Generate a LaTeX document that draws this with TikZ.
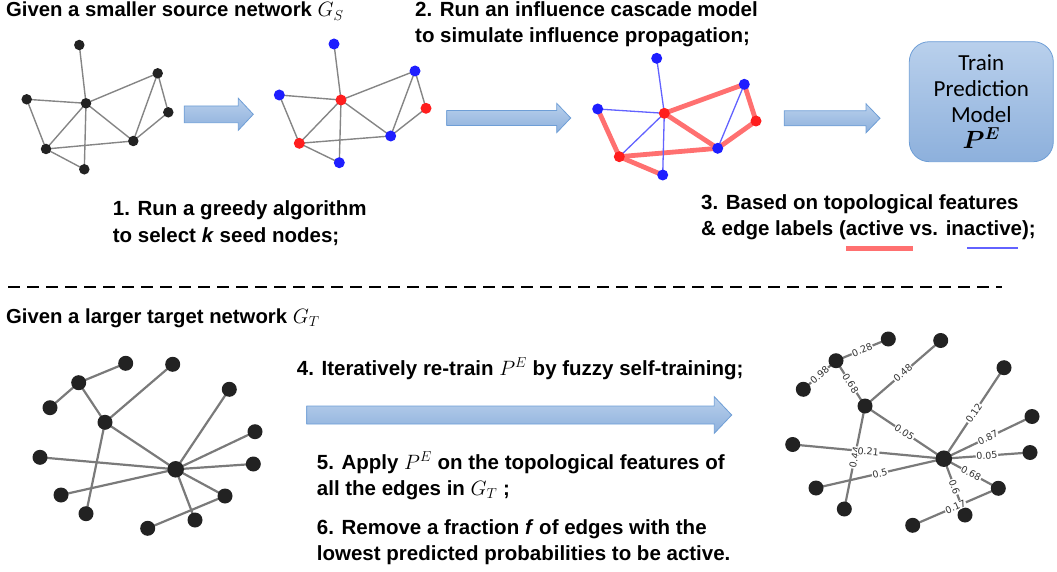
\documentclass[tikz,border=0pt]{standalone}
\usepackage{fontspec}
\setmainfont{Liberation Sans}
\newfontfamily\carlfont{Carlito}
\newfontfamily\djvfont{DejaVu Sans}
\usepackage{bm}
\pgfdeclarelayer{bg}
\pgfsetlayers{bg,main}
\definecolor{arrtop}{HTML}{B9D0EC}
\definecolor{arrbot}{HTML}{8DB0DC}
\definecolor{arredge}{HTML}{6E9ED6}
\definecolor{edgegray}{HTML}{858585}
\definecolor{nodeblack}{HTML}{222222}
\definecolor{nblue}{HTML}{1E1EFF}
\definecolor{nred}{HTML}{FF1E1E}
\definecolor{actred}{HTML}{FF7070}
\definecolor{inblue}{HTML}{6262FF}
\definecolor{bedgegray}{HTML}{7A7A7A}
\begin{document}
\begin{tikzpicture}[x=1pt,y=-1pt,
  blk/.style={circle,fill=nodeblack,inner sep=0pt,minimum size=10.5pt},
  bnd/.style={circle,fill=nblue,inner sep=0pt,minimum size=11pt},
  rnd/.style={circle,fill=nred,inner sep=0pt,minimum size=11pt},
  gedge/.style={draw=edgegray,line width=1.4pt},
  actedge/.style={draw=actred,line width=4.8pt},
  inedge/.style={draw=inblue,line width=1.3pt},
  bign/.style={circle,fill=nodeblack,inner sep=0pt,minimum size=15pt},
  hubn/.style={circle,fill=nodeblack,inner sep=0pt,minimum size=16.5pt},
  bedge/.style={draw=bedgegray,line width=2.2pt},
  lbl/.style={midway,sloped,fill=white,inner sep=0.6pt,text=black!80,font=\djvfont\fontsize{9.5}{10}\selectfont},
  txt/.style={anchor=base west,inner sep=0pt,font=\bfseries\fontsize{20.5}{26}\selectfont},
  ttl/.style={anchor=base west,inner sep=0pt,font=\bfseries\fontsize{20.3}{26}\selectfont},
  blockarrow/.style={draw=arredge,line width=0.8pt,top color=arrtop,bottom color=arrbot}
]
\useasboundingbox (0,0) rectangle (1057,572);

% ---------- texts ----------
\node[ttl] (title1) at (6,17) {Given a smaller source network $G_S$};
\node[txt] (t2a) at (415,16.7) {2. Run an influence cascade model};
\node[txt] (t2b) at (415,42.7) {to simulate influence propagation;};
\node[txt] (t1a) at (112.7,215.7) {1. Run a greedy algorithm};
\node[txt] (t1b) at (112.7,242.7) {to select \textit{k} seed nodes;};
\node[txt] (t3a) at (701,209.5) {3. Based on topological features};
\node[txt] (t3b) at (701,235.7) {\& edge labels (active vs. inactive);};
\node[ttl] (title2) at (6,323) {Given a larger target network $G_T$};
\node[txt] (t4) at (296.7,375) {4. Iteratively re-train $P^E$ by fuzzy self-training;};
\node[txt] (t5a) at (316.7,469) {5. Apply $P^E$ on the topological features of};
\node[txt] (t5b) at (316.7,495) {all the edges in $G_T$ ;};
\node[txt] (t6a) at (316.7,534.3) {6. Remove a fraction \textit{f} of edges with the};
\node[txt] (t6b) at (316.7,560) {lowest predicted probabilities to be active.};

% legend lines
\coordinate (lr1) at (846,248.3); \coordinate (lr2) at (912.7,248.3);
\coordinate (lb1) at (967.3,248.3); \coordinate (lb2) at (1018,248.3);
\draw[actedge] (lr1) -- (lr2);
\draw[inedge,line width=2.2pt] (lb1) -- (lb2);

% dashed separator
\coordinate (sep1) at (8,287); \coordinate (sep2) at (1002,287);
\draw[line width=1.3pt,dash pattern=on 12pt off 7pt] (sep1) -- (sep2);

% ---------- block arrows ----------
\path[blockarrow] (184.3,106) -- (238.3,106) -- (238.3,98.3) -- (253.3,114.3) -- (238.3,130.3) -- (238.3,122.7) -- (184.3,122.7) -- cycle;
\path[blockarrow] (446.7,110.5) -- (556.7,110.5) -- (556.7,103.3) -- (570.7,118) -- (556.7,132.7) -- (556.7,125.5) -- (446.7,125.5) -- cycle;
\path[blockarrow] (784.3,110.8) -- (866,110.8) -- (866,103.8) -- (880,118.3) -- (866,132.8) -- (866,125.8) -- (784.3,125.8) -- cycle;
\path[blockarrow] (306.7,406) -- (714.3,406) -- (714.3,396.7) -- (731.7,415) -- (714.3,433.3) -- (714.3,424) -- (306.7,424) -- cycle;

% ---------- model box ----------
\node[draw=arredge,line width=0.8pt,rounded corners=20pt,top color=arrtop,bottom color=arrbot,
  minimum width=144pt,minimum height=120pt,inner sep=0pt] (box) at (981.3,101.7) {};
\node[align=center,inner sep=0pt,font=\carlfont\fontsize{23}{26}\selectfont] (boxtxt) at (981.3,102)
  {Train\\Prediction\\Model\\$\bm{P}^{\bm{E}}$};

% ---------- graph 1 ----------
\node[blk] (a1) at (79.3,45) {};
\node[blk] (a2) at (26.7,99.3) {};
\node[blk] (a3) at (86,103.3) {};
\node[blk] (a4) at (157.7,73.3) {};
\node[blk] (a5) at (168.3,112.3) {};
\node[blk] (a6) at (133.3,141) {};
\node[blk] (a7) at (46,149) {};
\node[blk] (a8) at (84.3,169.3) {};
\begin{pgfonlayer}{bg}
\foreach \u/\v in {1/3,2/3,2/7,3/4,3/7,3/8,3/6,7/6,7/8,4/6,4/5,5/6}
  \draw[gedge] (a\u.center) -- (a\v.center);
\end{pgfonlayer}

% ---------- graph 2 ----------
\node[bnd] (b1) at (334,44) {};
\node[bnd] (b2) at (279.3,95) {};
\node[rnd] (b3) at (341,100) {};
\node[bnd] (b4) at (415,71) {};
\node[rnd] (b5) at (426,108.3) {};
\node[bnd] (b6) at (390.7,136) {};
\node[rnd] (b7) at (299.3,143.3) {};
\node[bnd] (b8) at (339.3,162.7) {};
\begin{pgfonlayer}{bg}
\foreach \u/\v in {1/3,2/3,2/7,3/4,3/7,3/8,3/6,7/6,7/8,4/6,4/5,5/6}
  \draw[gedge] (b\u.center) -- (b\v.center);
\end{pgfonlayer}

% ---------- graph 3 ----------
\node[bnd] (c1) at (656.7,58.3) {};
\node[bnd] (c2) at (597.7,109) {};
\node[rnd] (c3) at (664.3,113.3) {};
\node[bnd] (c4) at (744.3,84.3) {};
\node[rnd] (c5) at (756,121) {};
\node[bnd] (c6) at (717.7,148.3) {};
\node[rnd] (c7) at (619.3,156.7) {};
\node[bnd] (c8) at (662.7,175) {};
\begin{pgfonlayer}{bg}
\foreach \u/\v in {2/7,3/4,3/6,7/6,7/8,4/5,5/6}
  \draw[actedge] (c\u.center) -- (c\v.center);
\foreach \u/\v in {1/3,2/3,3/7,3/8,4/6}
  \draw[inedge] (c\u.center) -- (c\v.center);
\end{pgfonlayer}

% ---------- bottom-left graph ----------
\node[bign] (da) at (125.7,363.3) {};
\node[bign] (db) at (172.7,364.3) {};
\node[bign] (dc) at (78.7,382.7) {};
\node[bign] (dd) at (50,407.7) {};
\node[bign] (de) at (105,422.3) {};
\node[bign] (df) at (229.3,389.3) {};
\node[bign] (dg) at (255,431.7) {};
\node[bign] (dh) at (40,457.3) {};
\node[hubn] (dhub) at (175.7,469.3) {};
\node[bign] (di) at (253.3,464) {};
\node[bign] (dj) at (61,495) {};
\node[bign] (dk) at (225,496) {};
\node[bign] (dl) at (86,513.7) {};
\node[bign] (dm) at (195,520) {};
\node[bign] (dn) at (147.7,528.3) {};
\begin{pgfonlayer}{bg}
\foreach \u/\v in {a/c,c/d,c/e,e/b,e/hub,e/l,hub/f,hub/g,hub/i,hub/h,hub/j,hub/k,hub/m,k/n}
  \draw[bedge] (d\u.center) -- (d\v.center);
\end{pgfonlayer}

% ---------- bottom-right graph ----------
\node[bign] (eA) at (888.3,339) {};
\node[bign] (eB) at (940.7,340.5) {};
\node[bign] (eC) at (836,360.7) {};
\node[bign] (eD) at (803.3,389.3) {};
\node[bign] (eE) at (865,406) {};
\node[bign] (eP) at (1004,367.7) {};
\node[bign] (eG) at (1032,416.5) {};
\node[bign] (eH) at (1030,452.5) {};
\node[hubn] (ehub) at (943.8,458.7) {};
\node[bign] (eF) at (792.7,444.5) {};
\node[bign] (eL) at (816,488) {};
\node[bign] (eM) at (844.3,509) {};
\node[bign] (eI) at (998.3,488.3) {};
\node[bign] (eJ) at (965,515) {};
\node[bign] (eK) at (912.7,525.3) {};
\begin{pgfonlayer}{bg}
\foreach \u/\v in {C/A,C/D,C/E,E/B,E/hub,E/M,hub/F,hub/L,hub/P,hub/G,hub/H,hub/I,hub/J,I/K}
  \draw[bedge] (e\u.center) -- (e\v.center);
\end{pgfonlayer}
\foreach \u/\v/\w in {C/A/0.28,C/D/0.98,C/E/0.68,E/B/0.48,E/hub/0.05,E/M/0.44,hub/F/0.21,hub/L/0.5,hub/P/0.12,hub/G/0.87,hub/H/0.05,hub/I/0.68,hub/J/0.6,I/K/0.17}
  \path (e\u.center) -- (e\v.center) node[lbl] {\w};
\end{tikzpicture}
\end{document}
